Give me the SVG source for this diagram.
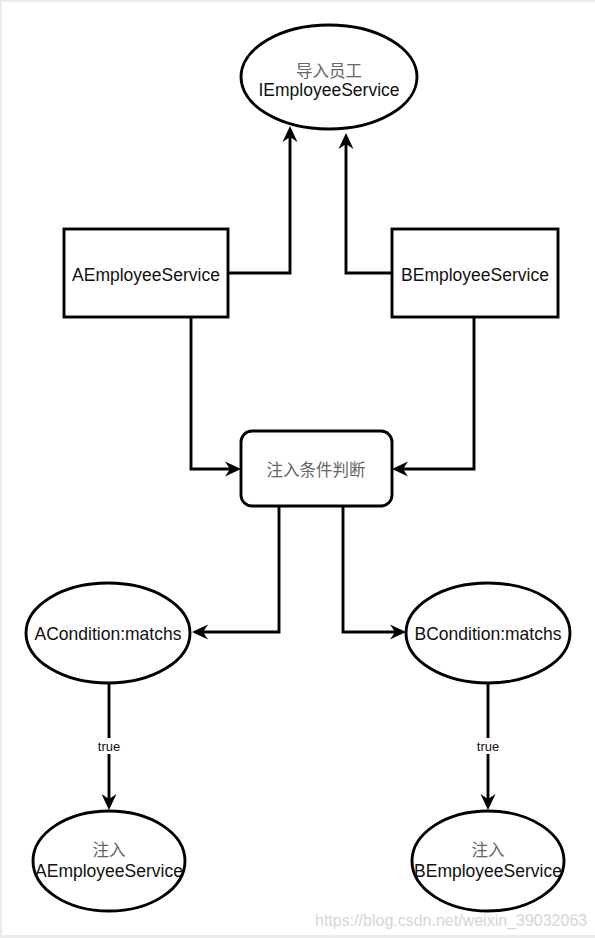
<svg xmlns="http://www.w3.org/2000/svg" width="595" height="938" viewBox="0 0 595 938">
<defs>
<style>
.shape{fill:#fff;stroke:#000;stroke-width:2.9}
.edge{fill:none;stroke:#000;stroke-width:2.9}
.lbl{font-family:"Liberation Sans",Arial,sans-serif;font-size:17.5px;fill:#111;text-anchor:middle}
.cjk{font-family:"Noto Sans CJK SC",sans-serif;font-size:16.5px;fill:#666;text-anchor:middle}
.small{font-family:"Liberation Sans",Arial,sans-serif;font-size:13px;fill:#111;text-anchor:middle}
</style>
<marker id="arr" markerUnits="userSpaceOnUse" markerWidth="17" markerHeight="16" viewBox="0 0 17 16" refX="5" refY="8" orient="auto">
<path d="M16,8 L0,0.5 L5,8 L0,15.5 Z" fill="#000"/>
</marker>
</defs>
<rect x="0" y="0" width="595" height="938" fill="#ebebeb"/>
<rect x="2" y="2" width="593" height="933" fill="#fff"/>

<g id="connectors">
<path class="edge" d="M228,273 H290 V137" marker-end="url(#arr)"/>
<path class="edge" d="M392,273 H346 V144" marker-end="url(#arr)"/>
<path class="edge" d="M191,317 V469 H230" marker-end="url(#arr)"/>
<path class="edge" d="M474,317 V469 H403" marker-end="url(#arr)"/>
<path class="edge" d="M279,506 V632 H203" marker-end="url(#arr)"/>
<path class="edge" d="M343,506 V632 H395" marker-end="url(#arr)"/>
<path class="edge" d="M109,683 V799" marker-end="url(#arr)"/>
<path class="edge" d="M488,683 V799" marker-end="url(#arr)"/>
<rect x="95" y="738" width="28" height="16" fill="#fff"/>
<text class="small" x="109" y="751">true</text>
<rect x="474" y="738" width="28" height="16" fill="#fff"/>
<text class="small" x="488" y="751">true</text>
</g>

<g id="node-iemployee">
<ellipse class="shape" cx="329" cy="77" rx="88" ry="52"/>
<text class="cjk" x="329" y="77">导入员工</text>
<text class="lbl" x="329" y="96">IEmployeeService</text>
</g>

<g id="node-aemployee">
<rect class="shape" x="64" y="229" width="164" height="88"/>
<text class="lbl" x="146" y="281">AEmployeeService</text>
</g>

<g id="node-bemployee">
<rect class="shape" x="392" y="229" width="166" height="88"/>
<text class="lbl" x="475" y="281">BEmployeeService</text>
</g>

<g id="node-condition">
<rect class="shape" x="241" y="431" width="151" height="75" rx="11" ry="11"/>
<text class="cjk" x="316" y="476">注入条件判断</text>
</g>

<g id="node-acondition">
<ellipse class="shape" cx="108" cy="633" rx="82" ry="50"/>
<text class="lbl" x="108" y="640">ACondition:matchs</text>
</g>

<g id="node-bcondition">
<ellipse class="shape" cx="488" cy="633" rx="82" ry="50"/>
<text class="lbl" x="488" y="640">BCondition:matchs</text>
</g>

<g id="node-inject-a">
<ellipse class="shape" cx="109" cy="861" rx="76" ry="50"/>
<text class="cjk" x="109" y="856">注入</text>
<text class="lbl" x="109" y="877">AEmployeeService</text>
</g>

<g id="node-inject-b">
<ellipse class="shape" cx="488" cy="861" rx="76" ry="50"/>
<text class="cjk" x="488" y="856">注入</text>
<text class="lbl" x="488" y="877">BEmployeeService</text>
</g>

<text x="315" y="926" font-family="Liberation Sans, Arial, sans-serif" font-size="16" fill="#d6d6d6">https://blog.csdn.net/weixin_39032063</text>
</svg>
